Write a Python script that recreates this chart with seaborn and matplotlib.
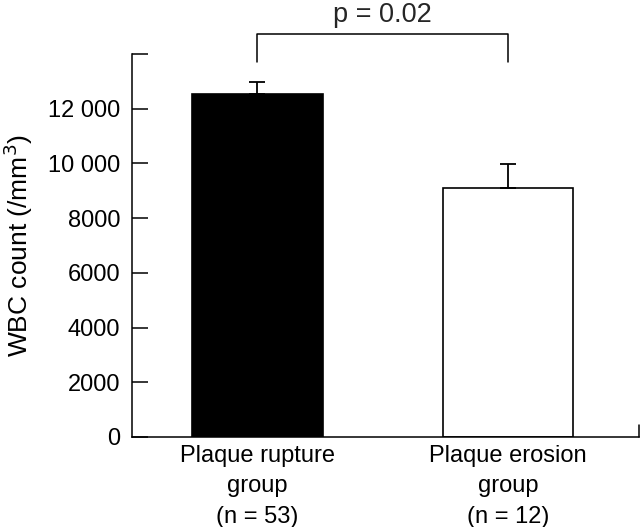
import matplotlib
matplotlib.use("Agg")
import matplotlib.pyplot as plt
import seaborn as sns
import pandas as pd
import numpy as np

categories = ["Plaque rupture\ngroup\n(n = 53)", "Plaque erosion\ngroup\n(n = 12)"]
means = [12550, 9110]
errs = [445, 870]
bar_colors = ["black", "white"]
yticks = [0, 2000, 4000, 6000, 8000, 10000, 12000, 14000]
ytick_labels = ["0", "2000", "4000", "6000", "8000", "10 000", "12 000", ""]
p_text = "p = 0.02"

sns.set_theme(style="white")
plt.rcParams["font.family"] = ["Liberation Sans", "DejaVu Sans"]

df = pd.DataFrame({"group": categories, "wbc": means})

fig = plt.figure(figsize=(6.4, 5.27), dpi=100)
ax = fig.add_axes([0.206, 0.1708, 0.792, 0.7267])

sns.barplot(data=df, x="group", y="wbc", hue="group", palette=bar_colors,
            edgecolor="black", linewidth=1.2, width=0.52, errorbar=None,
            legend=False, ax=ax, saturation=1)

xpos = np.arange(len(categories))
ax.errorbar(xpos, means, yerr=[np.zeros(len(errs)), errs], fmt="none",
            ecolor="black", elinewidth=1.3, capsize=5.5, capthick=1.3, zorder=1)

ax.set_xlim(-0.5, 1.52)
ax.set_ylim(0, 14000)
ax.set_yticks(yticks)
ax.set_yticklabels(ytick_labels)
ax.tick_params(axis="y", direction="in", length=11.5, width=1.1, pad=8.5,
               labelsize=17, left=True, colors="black")
ax.tick_params(axis="x", length=0, pad=6, labelsize=17, colors="black")
for lab in ax.get_xticklabels():
    lab.set_linespacing(1.48)
    lab.set_verticalalignment("top")

ax.set_xlabel("")
ax.set_ylabel("WBC count (/mm$^3$)", fontsize=19, labelpad=9, color="black")

for s in ["top", "right"]:
    ax.spines[s].set_visible(False)
for s in ["left", "bottom"]:
    ax.spines[s].set_color("black")
    ax.spines[s].set_linewidth(1.1)

# small end tick at right end of x axis
ax.axvline(1.52, ymin=0, ymax=0.03, color="black", lw=1.1, clip_on=False)

# significance bracket
yb = 14730
yv = 13706
ax.plot([0, 0, 1, 1], [yv, yb, yb, yv], color="black", lw=1.1, clip_on=False)
ax.text(0.5, 15180, p_text, ha="center", va="baseline", fontsize=19.5)

fig.savefig("out.png", dpi=100, facecolor="white")
